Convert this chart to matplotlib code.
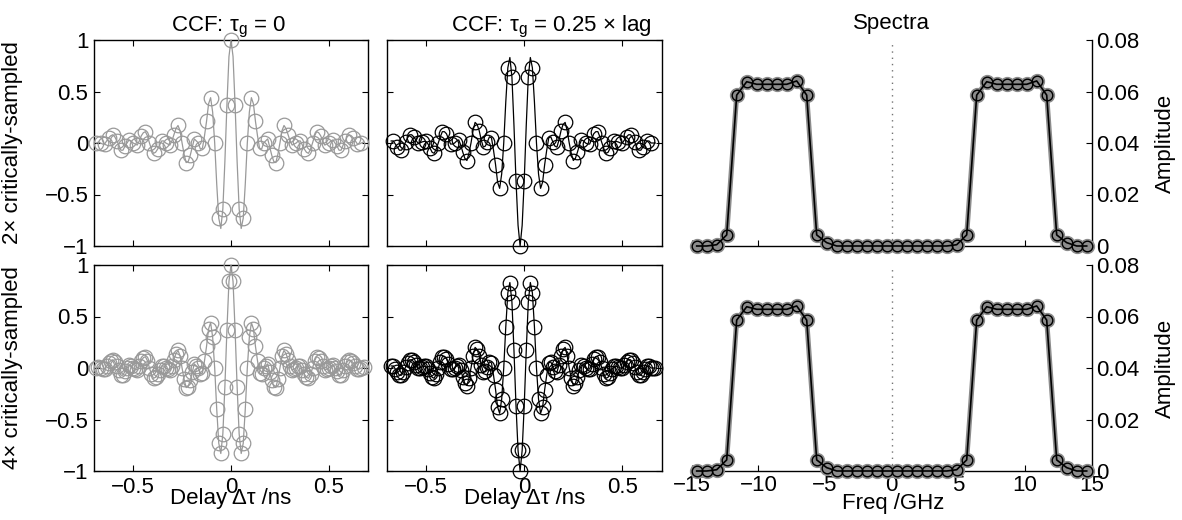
import numpy as np
import matplotlib
matplotlib.use("Agg")
import matplotlib.pyplot as plt
from matplotlib.ticker import FuncFormatter

plt.rcParams['font.family'] = ['Liberation Sans', 'DejaVu Sans']
plt.rcParams['mathtext.fontset'] = 'custom'
plt.rcParams['mathtext.rm'] = 'Liberation Sans'
plt.rcParams['mathtext.it'] = 'Liberation Sans:italic'
plt.rcParams['mathtext.bf'] = 'Liberation Sans:bold'

# ---------------- data ----------------
LAG_STEP_NS = 1.0 / 96.0   # 4x critically-sampled lag step

# CCF, tau_g = 0, 4x sampling (lags -66..65)
lags_left = np.arange(-66, 66)
ccf_left = [
    0.0, 0.01, 0.0, -0.01, -0.01, 0.02, 0.05, 0.07, 0.08, 0.06,
    0.02, -0.02, -0.07, -0.07, -0.03, 0.0, 0.03, 0.02, 0.0, -0.01,
    -0.02, 0.02, 0.07, 0.10, 0.11, 0.07, 0.0, -0.06, -0.10, -0.09,
    -0.06, -0.02, 0.02, 0.02, 0.0, -0.01, -0.02, 0.02, 0.08, 0.14,
    0.17, 0.12, 0.0, -0.11, -0.19, -0.18, -0.12, -0.04, 0.04, 0.02,
    0.0, -0.06, -0.05, 0.07, 0.21, 0.38, 0.44, 0.30, 0.0, -0.40,
    -0.73, -0.83, -0.64, -0.18, 0.37, 0.84,
    1.0,
    0.84, 0.37, -0.18, -0.64, -0.83, -0.73, -0.40, 0.0, 0.30, 0.44,
    0.38, 0.21, 0.07, -0.05, -0.06, 0.0, 0.02, 0.04, -0.04, -0.12,
    -0.18, -0.19, -0.11, 0.0, 0.12, 0.17, 0.14, 0.08, 0.02, -0.02,
    -0.01, 0.0, 0.02, 0.02, -0.02, -0.06, -0.09, -0.10, -0.06, 0.0,
    0.07, 0.11, 0.10, 0.07, 0.02, -0.02, -0.01, 0.0, 0.02, 0.03,
    0.0, -0.03, -0.07, -0.07, -0.02, 0.02, 0.06, 0.08, 0.07, 0.05,
    0.02, -0.01, -0.01, 0.0, 0.01,
]

# CCF, tau_g = 0.25 x lag, 4x sampling (lags -65..64)
lags_mid = np.arange(-65, 65)
ccf_mid = [
    0.02, 0.02, -0.01, -0.04, -0.07, -0.07, -0.04, 0.01, 0.05, 0.08,
    0.08, 0.06, 0.03, 0.0, 0.0, 0.01, 0.015, 0.015, -0.01, -0.05,
    -0.09, -0.10, -0.06, 0.0, 0.06, 0.11, 0.11, 0.09, 0.04, -0.01,
    -0.01, 0.0, 0.02, 0.03, -0.02, -0.09, -0.15, -0.17, -0.10, 0.0,
    0.12, 0.20, 0.18, 0.12, 0.03, -0.04, -0.03, 0.01, 0.06, 0.05,
    -0.07, -0.21, -0.38, -0.44, -0.30, 0.0, 0.40, 0.73, 0.83, 0.64,
    0.17, -0.37, -0.80,
    -1.0,
    -0.80, -0.37, 0.17, 0.64, 0.83, 0.73, 0.40, 0.0, -0.30, -0.44,
    -0.38, -0.21, -0.07, 0.05, 0.06, 0.01, -0.03, -0.04, 0.03, 0.12,
    0.18, 0.20, 0.12, 0.0, -0.10, -0.17, -0.15, -0.09, -0.02, 0.03,
    0.02, 0.0, -0.01, -0.01, 0.04, 0.09, 0.11, 0.11, 0.06, 0.0,
    -0.06, -0.10, -0.09, -0.05, -0.01, 0.015, 0.015, 0.01, 0.0, 0.0,
    0.03, 0.06, 0.08, 0.08, 0.05, 0.01, -0.04, -0.07, -0.07, -0.04,
    -0.01, 0.02, 0.02, 0.0, 0.0, 0.0,
]

# Spectra
freq_ghz = [-14.625, -13.875, -13.125, -12.375, -11.625, -10.875, -10.125, -9.375,
            -8.625, -7.875, -7.125, -6.375, -5.625, -4.875, -4.125, -3.375,
            -2.625, -1.875, -1.125, -0.375, 0.375, 1.125, 1.875, 2.625,
            3.375, 4.125, 4.875, 5.625, 6.375, 7.125, 7.875, 8.625,
            9.375, 10.125, 10.875, 11.625, 12.375, 13.125, 13.875, 14.625]
spec_amp = [0, 0, 0.0005, 0.0043, 0.0586, 0.0638, 0.0628, 0.0628, 0.0628, 0.0628,
            0.0641, 0.0586, 0.0043, 0.0013, 0, 0, 0, 0, 0, 0,
            0, 0, 0, 0, 0, 0, 0.0005, 0.0043, 0.0586, 0.0638,
            0.0628, 0.0628, 0.0628, 0.0628, 0.0641, 0.0586, 0.0043, 0.0013, 0, 0]

# --------------- derived (sampling subsets) ---------------
x_left4 = lags_left * LAG_STEP_NS
y_left4 = np.array(ccf_left)
m_left2 = (lags_left % 2 == 0)
x_mid4 = lags_mid * LAG_STEP_NS
y_mid4 = np.array(ccf_mid)
m_mid2 = (lags_mid % 2 == 0) & (lags_mid <= 62)

FS = 16
GRAY = '0.6'

fig = plt.figure(figsize=(11.82, 5.20), dpi=100)
W, H = 1182.0, 520.0

def axpos(x0, x1, y0, y1):
    return [x0 / W, 1 - y1 / H, (x1 - x0) / W, (y1 - y0) / H]

cols = [(94, 368), (386.7, 661.7), (691.7, 1091.7)]
rows = [(40, 246), (265, 471)]

fmt = FuncFormatter(lambda v, p: ('%g' % v).replace('-', '\u2212'))

def style_ccf(ax, show_x, show_y):
    ax.set_xlim(-0.7, 0.7)
    ax.set_ylim(-1, 1)
    ax.set_xticks([-0.5, 0, 0.5])
    ax.set_yticks([-1, -0.5, 0, 0.5, 1])
    ax.xaxis.set_major_formatter(fmt)
    ax.yaxis.set_major_formatter(fmt)
    ax.tick_params(direction='in', top=True, right=True, length=4, width=0.8,
                   labelsize=FS, labelbottom=show_x, labelleft=show_y, pad=4)
    for s in ax.spines.values():
        s.set_linewidth(1.0)

def draw_ccf(ax, xl, yl, xm, ym, color):
    ax.plot(xl, yl, '-', color=color, lw=0.9, clip_on=False, zorder=3)
    ax.plot(xm, ym, 'o', mfc='none', mec=color, ms=10.5, mew=0.9,
            clip_on=False, zorder=4)

axes = {}
for r, (y0, y1) in enumerate(rows):
    for c, (x0, x1) in enumerate(cols):
        axes[(r, c)] = fig.add_axes(axpos(x0, x1, y0, y1))

# top-left: 2x markers, 4x line
ax = axes[(0, 0)]
draw_ccf(ax, x_left4, y_left4, x_left4[m_left2], y_left4[m_left2], GRAY)
style_ccf(ax, False, True)
ax.set_title('CCF: \u03c4$_{\\mathrm{g}}$ = 0', fontsize=FS, pad=6, x=0.49)

# top-middle
ax = axes[(0, 1)]
draw_ccf(ax, x_mid4, y_mid4, x_mid4[m_mid2], y_mid4[m_mid2], 'k')
style_ccf(ax, False, False)
ax.set_title('CCF: \u03c4$_{\\mathrm{g}}$ = 0.25 \u00d7 lag', fontsize=FS, pad=6, x=0.6)

# bottom-left: 4x
ax = axes[(1, 0)]
draw_ccf(ax, x_left4, y_left4, x_left4, y_left4, GRAY)
style_ccf(ax, True, True)

# bottom-middle: 4x
ax = axes[(1, 1)]
draw_ccf(ax, x_mid4, y_mid4, x_mid4, y_mid4, 'k')
style_ccf(ax, True, False)

# spectra
for r in range(2):
    ax = axes[(r, 2)]
    ax.plot([0, 0], [0, 0.08], linestyle=(0, (1, 3.5)), color='0.45', lw=1.0, zorder=1)
    ax.plot(freq_ghz, spec_amp, '-o', color='0.55', lw=3.6, ms=10, mfc='0.55',
            mec='0.55', clip_on=False, zorder=3)
    ax.plot(freq_ghz, spec_amp, '-o', color='k', lw=1.2, ms=7.6, mfc='none',
            mec='k', mew=1.0, clip_on=False, zorder=4)
    ax.set_xlim(-15, 15)
    ax.set_ylim(0, 0.08)
    ax.spines['left'].set_visible(False)
    ax.spines['top'].set_visible(False)
    ax.spines['right'].set_linewidth(1.0)
    ax.spines['bottom'].set_linewidth(1.0)
    ax.yaxis.tick_right()
    ax.set_xticks([-15, -10, -5, 0, 5, 10, 15])
    ax.set_yticks([0, 0.02, 0.04, 0.06, 0.08])
    ax.xaxis.set_major_formatter(fmt)
    ax.yaxis.set_major_formatter(fmt)
    ax.tick_params(direction='in', length=4, width=0.8, labelsize=FS, pad=3)
    ax.tick_params(axis='x', labelbottom=(r == 1), top=False)
    ax.set_facecolor('none')
axes[(0, 2)].set_title('Spectra', fontsize=FS, pad=8)

# labels
fig.text(13 / W, 1 - 143 / H, '2\u00d7 critically-sampled', rotation=90,
         ha='center', va='center', fontsize=FS)
fig.text(13 / W, 1 - 368 / H, '4\u00d7 critically-sampled', rotation=90,
         ha='center', va='center', fontsize=FS)
for yc in (143, 368):
    fig.text(1165 / W, 1 - yc / H, 'Amplitude', rotation=90,
             ha='center', va='center', fontsize=FS)
for xc in (231, 524.2):
    fig.text(xc / W, 1 - 504 / H, 'Delay \u0394\u03c4 /ns', ha='center',
             va='baseline', fontsize=FS)
fig.text(893 / W, 1 - 509 / H, 'Freq /GHz', ha='center', va='baseline', fontsize=FS)

fig.savefig('out.png', dpi=100)
